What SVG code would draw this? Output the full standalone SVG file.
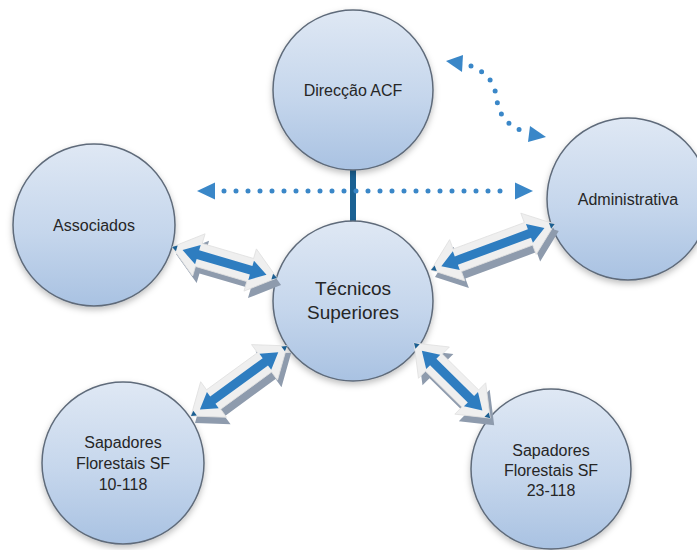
<svg xmlns="http://www.w3.org/2000/svg" width="697" height="550" viewBox="0 0 697 550">
<defs>
<linearGradient id="cg" x1="0" y1="0" x2="0" y2="1">
<stop offset="0" stop-color="#dfe8f4"/>
<stop offset="0.55" stop-color="#c5d6ec"/>
<stop offset="1" stop-color="#a9c2e2"/>
</linearGradient>
<filter id="sh" x="-20%" y="-20%" width="140%" height="150%">
<feDropShadow dx="0" dy="3" stdDeviation="3" flood-color="#000" flood-opacity="0.25"/>
</filter>
</defs>
<style>
.node circle{fill:url(#cg);stroke:#5f6b7a;stroke-width:1.5;filter:url(#sh)}
.node text{font-family:"Liberation Sans",Arial,sans-serif;font-size:16px;fill:#262626;text-anchor:middle}
.big text{font-size:19px}
.ext{fill:#8e9bad}
.out{fill:#efefef;stroke:#e0e0e0;stroke-width:0.8}
.blue{fill:#2e7dc0}
.tip{fill:#1c5f92}
.dots{fill:none;stroke:#3a87c8;stroke-width:5;stroke-linecap:round;stroke-dasharray:0 12}
.ah{fill:#3a87c8}
</style>

<g id="connectors">
<line x1="353" y1="165" x2="353" y2="226" stroke="#1a6193" stroke-width="6"/>
</g>

<g id="n-direccao" class="node">
<circle cx="353" cy="90" r="80"/>
<text x="353" y="96">Direcção ACF</text>
</g>
<g id="n-associados" class="node">
<circle cx="94" cy="225" r="81"/>
<text x="94" y="231">Associados</text>
</g>
<g id="n-administrativa" class="node">
<circle cx="628" cy="199" r="81"/>
<text x="628" y="205">Administrativa</text>
</g>
<g id="n-tecnicos" class="node big">
<circle cx="353" cy="301" r="80"/>
<text x="353" y="295">Técnicos</text>
<text x="353" y="319">Superiores</text>
</g>
<g id="n-sf10" class="node">
<circle cx="123" cy="463" r="81"/>
<text x="123" y="448">Sapadores</text>
<text x="123" y="469">Florestais SF</text>
<text x="123" y="490">10-118</text>
</g>
<g id="n-sf23" class="node">
<circle cx="551" cy="469" r="80"/>
<text x="551" y="456">Sapadores</text>
<text x="551" y="476">Florestais SF</text>
<text x="551" y="496">23-118</text>
</g>

<g id="connectors-arrows">
<!-- Associados <-> Tecnicos -->
<g transform="translate(4 7)"><polygon class="ext" transform="translate(172 247) rotate(16.4)" points="0,0 28,-22 28,-12 81.5,-12 81.5,-22 109.5,0 81.5,22 81.5,12 28,12 28,22"/></g>
<g transform="translate(172 247) rotate(16.4)">
<polygon class="out" points="0,0 28,-22 28,-12 81.5,-12 81.5,-22 109.5,0 81.5,22 81.5,12 28,12 28,22"/>
<polygon class="blue" points="11,0 27,-10 27,-4.5 82.5,-4.5 82.5,-10 98.5,0 82.5,10 82.5,4.5 27,4.5 27,10"/>
<polygon class="tip" points="0,0 5,-3 5,3"/>
<polygon class="tip" points="109.5,0 104.5,-3 104.5,3"/>
</g>
<!-- Tecnicos <-> Administrativa -->
<g transform="translate(4 7)"><polygon class="ext" transform="translate(431 270) rotate(-20.35)" points="0,0 28,-22 28,-12 104,-12 104,-22 132,0 104,22 104,12 28,12 28,22"/></g>
<g transform="translate(431 270) rotate(-20.35)">
<polygon class="out" points="0,0 28,-22 28,-12 104,-12 104,-22 132,0 104,22 104,12 28,12 28,22"/>
<polygon class="blue" points="11,0 27,-10 27,-4.5 105,-4.5 105,-10 121,0 105,10 105,4.5 27,4.5 27,10"/>
<polygon class="tip" points="0,0 5,-3 5,3"/>
<polygon class="tip" points="132,0 127,-3 127,3"/>
</g>
<!-- SF10 <-> Tecnicos -->
<g transform="translate(4 7)"><polygon class="ext" transform="translate(191 416) rotate(-36.1)" points="0,0 28,-22 28,-12 91,-12 91,-22 119,0 91,22 91,12 28,12 28,22"/></g>
<g transform="translate(191 416) rotate(-36.1)">
<polygon class="out" points="0,0 28,-22 28,-12 91,-12 91,-22 119,0 91,22 91,12 28,12 28,22"/>
<polygon class="blue" points="11,0 27,-10 27,-4.5 92,-4.5 92,-10 108,0 92,10 92,4.5 27,4.5 27,10"/>
<polygon class="tip" points="0,0 5,-3 5,3"/>
<polygon class="tip" points="119,0 114,-3 114,3"/>
</g>
<!-- Tecnicos <-> SF23 -->
<g transform="translate(4 7)"><polygon class="ext" transform="translate(414 343) rotate(44.6)" points="0,0 28,-22 28,-12 79,-12 79,-22 107,0 79,22 79,12 28,12 28,22"/></g>
<g transform="translate(414 343) rotate(44.6)">
<polygon class="out" points="0,0 28,-22 28,-12 79,-12 79,-22 107,0 79,22 79,12 28,12 28,22"/>
<polygon class="blue" points="11,0 27,-10 27,-4.5 80,-4.5 80,-10 96,0 80,10 80,4.5 27,4.5 27,10"/>
<polygon class="tip" points="0,0 5,-3 5,3"/>
<polygon class="tip" points="107,0 102,-3 102,3"/>
</g>

<!-- dotted horizontal -->
<line class="dots" x1="224" y1="191" x2="512" y2="191"/>
<polygon class="ah" points="197,191 215,182.5 215,199.5"/>
<polygon class="ah" points="533,191 515,182.5 515,199.5"/>
<!-- dotted curve -->
<path class="dots" d="M471 66 C486 72 494 82 496 95 C498 110 502 122 520 130"/>
<polygon class="ah" points="446,61 463,55 462,72"/>
<polygon class="ah" points="546,137 530,126 528,142"/>
</g>
</svg>
